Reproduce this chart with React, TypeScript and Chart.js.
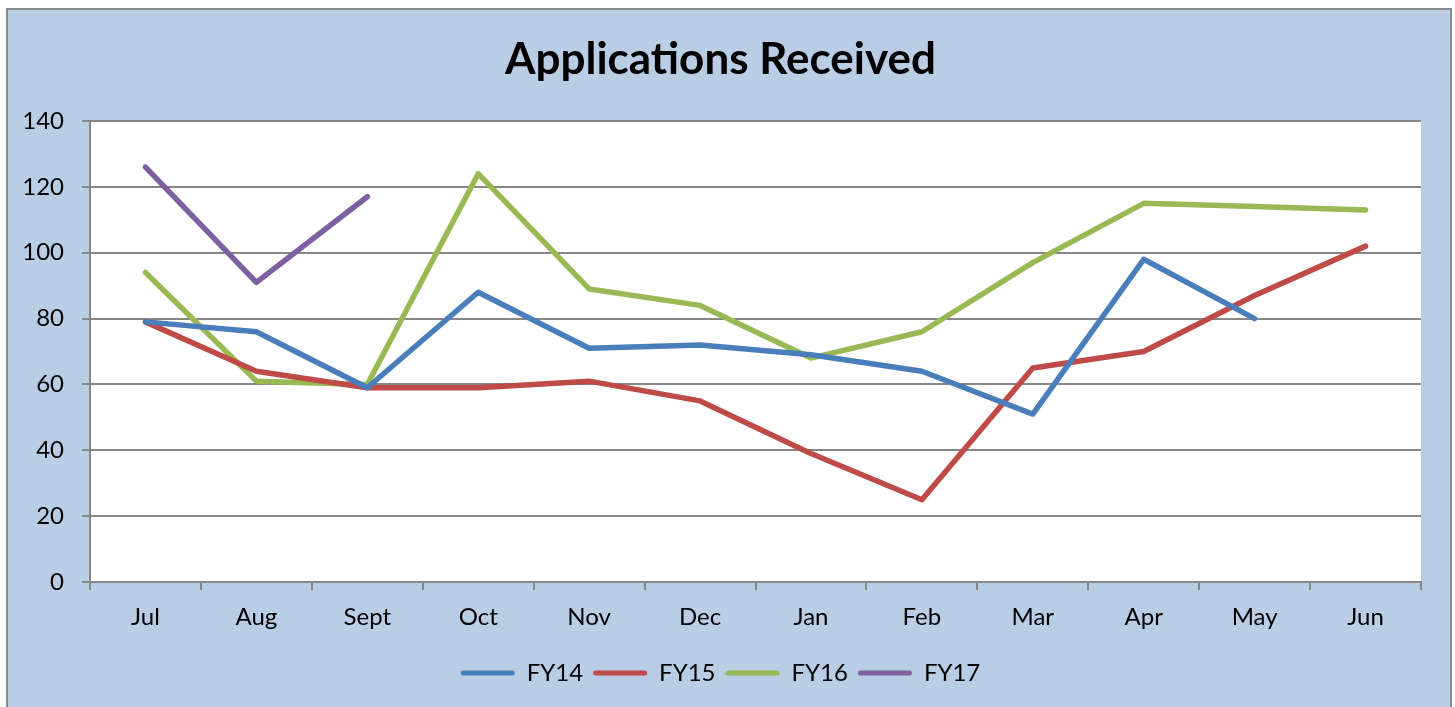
import React, { useEffect, useRef } from "react";
import { Chart, registerables } from "chart.js";

Chart.register(...registerables);

const categories = ["Jul", "Aug", "Sept", "Oct", "Nov", "Dec", "Jan", "Feb", "Mar", "Apr", "May", "Jun"];
const fy14 = [79, 76, 59, 88, 71, 72, 69, 64, 51, 98, 80, null];
const fy15 = [79, 64, 59, 59, 61, 55, 39, 25, 65, 70, 87, 102];
const fy16 = [94, 61, 60, 124, 89, 84, 68, 76, 97, 115, 114, 113];
const fy17 = [126, 91, 117, null, null, null, null, null, null, null, null, null];
const seriesNames = ["FY14", "FY15", "FY16", "FY17"];
const seriesColors = ["#4A7EBB", "#BE4B48", "#98B954", "#7D60A0"];
const yTicks = { min: 0, max: 140, step: 20 };

const FONT = "Lato, 'Noto Sans', sans-serif";
const GRID = "#878787";

const bgPlugin = {
  id: "bgPlugin",
  beforeDraw(chart: any) {
    const { ctx, width, height, chartArea } = chart;
    ctx.save();
    ctx.fillStyle = "#ffffff";
    ctx.fillRect(0, 0, width, height);
    ctx.fillStyle = "#B9CDE5";
    ctx.fillRect(8, 10, 1442, height);
    ctx.strokeStyle = "#8a8a8a";
    ctx.lineWidth = 2;
    ctx.strokeRect(7, 9, 1444, height + 10);
    ctx.fillStyle = "#ffffff";
    ctx.fillRect(chartArea.left, chartArea.top, chartArea.right - chartArea.left, chartArea.bottom - chartArea.top);
    ctx.restore();
  },
};

export default function App() {
  const ref = useRef<HTMLCanvasElement | null>(null);
  useEffect(() => {
    if (!ref.current) return;
    const all = [fy14, fy15, fy16, fy17];
    const chart = new Chart(ref.current, {
      type: "line",
      data: {
        labels: categories,
        datasets: all.map((d, i) => ({
          label: seriesNames[i],
          data: d,
          borderColor: seriesColors[i],
          backgroundColor: seriesColors[i],
          borderWidth: 5.5,
          borderCapStyle: "round",
          borderJoinStyle: "round",
          pointRadius: 0,
          pointHoverRadius: 0,
          tension: 0,
          spanGaps: false,
        })),
      },
      options: {
        animation: false,
        responsive: false,
        layout: { padding: { left: 20, right: 34, top: 0, bottom: 12 } },
        plugins: {
          title: {
            display: true,
            text: "Applications Received",
            color: "#000",
            font: { family: FONT, size: 44, weight: "bold" },
            padding: { top: 33.6, bottom: 34.6 },
          },
          legend: {
            position: "bottom",
            labels: {
              color: "#000",
              font: { family: FONT, size: 24 },
              boxWidth: 54,
              boxHeight: 5,
              padding: 10,
              generateLabels: (c: any) =>
                c.data.datasets.map((ds: any, i: number) => ({
                  text: ds.label,
                  fillStyle: ds.borderColor,
                  strokeStyle: ds.borderColor,
                  lineWidth: 0,
                  hidden: false,
                  datasetIndex: i,
                  fontColor: "#000",
                  borderRadius: 2.5,
                })),
            },
          },
          tooltip: { enabled: false },
        },
        scales: {
          x: {
            offset: true,
            grid: {
              offset: true,
              drawOnChartArea: false,
              drawTicks: true,
              tickLength: 8,
              color: GRID,
              lineWidth: 2,
            },
            border: { color: GRID, width: 2 },
            ticks: { color: "#000", font: { family: FONT, size: 24 }, padding: 13, maxRotation: 0 },
            afterFit: (s: any) => {
              s.height = 69;
            },
          },
          y: {
            min: yTicks.min,
            max: yTicks.max,
            ticks: { stepSize: yTicks.step, color: "#000", font: { family: FONT, size: 24 }, padding: 18 },
            grid: { color: GRID, lineWidth: 2, tickLength: 8, drawTicks: true },
            border: { color: GRID, width: 2 },
            afterFit: (s: any) => {
              s.width = 70;
            },
          },
        },
      },
      plugins: [bgPlugin],
    });
    return () => chart.destroy();
  }, []);
  return (
    <div style={{ position: "absolute", left: 0, top: 0, width: 1455, height: 707 }}>
      <canvas ref={ref} width={1455} height={707} style={{ display: "block" }} />
    </div>
  );
}
